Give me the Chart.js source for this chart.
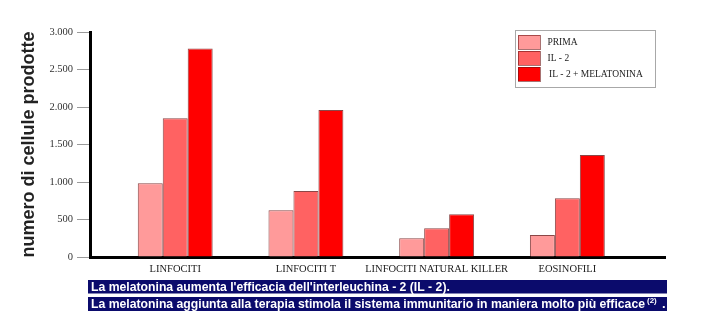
<!DOCTYPE html>
<html>
<head>
<meta charset="utf-8">
<script src="https://cdn.jsdelivr.net/npm/chart.js@4.4.1/dist/chart.umd.min.js"></script>
<style>
  html, body { margin: 0; padding: 0; background: #fff; }
  #wrap { width: 722px; height: 330px; }
</style>
</head>
<body>
<div id="wrap"><canvas id="cellChart" width="722" height="330"></canvas></div>
<script>
// categories on the x axis
const categories = ['LINFOCITI', 'LINFOCITI T', 'LINFOCITI NATURAL KILLER', 'EOSINOFILI'];

// cells produced, per treatment
const prima = [985, 625, 250, 295];
const il2 = [1850, 880, 385, 785];
const il2Melatonina = [2780, 1960, 570, 1360];

const seriesLabels = ['PRIMA', 'IL - 2', 'IL - 2 + MELATONINA'];
const seriesColors = ['#ff9a9a', '#ff6262', '#ff0000'];

const yTicks = [0, 500, 1000, 1500, 2000, 2500, 3000];

const notes = [
    "La melatonina aumenta l'efficacia dell'interleuchina - 2 (IL - 2).",
    "La melatonina aggiunta alla terapia stimola il sistema immunitario in maniera molto più efficace"
];
const noteRef = '(2)';

function thousands(v) {
    return String(v).replace(/\B(?=(\d{3})+(?!\d))/g, '.');
}

function toPoints(values) {
    return values.map((v, i) => ({ x: i, y: v }));
}

// legend box drawn in the upper right corner of the plot
const boxLegend = {
    id: 'boxLegend',
    afterDraw(chart) {
        const ctx = chart.ctx;
        ctx.save();
        ctx.fillStyle = '#fff';
        ctx.fillRect(515, 30, 140, 57);
        ctx.strokeStyle = '#a8a8a8';
        ctx.lineWidth = 1;
        ctx.strokeRect(515.5, 30.5, 140, 57);
        ctx.font = '9.5px "Liberation Serif", "Times New Roman", serif';
        ctx.textBaseline = 'middle';
        chart.data.datasets.forEach((ds, i) => {
            const y = 35 + i * 16;
            ctx.fillStyle = ds.backgroundColor;
            ctx.fillRect(518, y, 22, 14);
            ctx.strokeStyle = 'rgba(110,20,20,0.6)';
            ctx.strokeRect(518.5, y + 0.5, 22, 14);
            ctx.fillStyle = '#222';
            ctx.fillText(ds.label, i === 2 ? 549 : 547.5, y + 7.5);
        });
        ctx.restore();
    }
};

// the two navy caption strips under the chart
const captions = {
    id: 'captions',
    afterDraw(chart) {
        const ctx = chart.ctx;
        ctx.save();
        ctx.fillStyle = '#0b0b6c';
        ctx.fillRect(88, 280, 579, 13.5);
        ctx.fillRect(88, 297, 579, 14);
        const font = 'bold 13px "Liberation Sans", Arial, sans-serif';
        ctx.font = font;
        const target = 645 - 91;
        const factor = target / ctx.measureText(notes[1]).width;
        ctx.fillStyle = '#fff';
        ctx.textBaseline = 'alphabetic';
        ctx.fillText(notes[0], 91, 290.5, ctx.measureText(notes[0]).width * factor);
        ctx.fillText(notes[1], 91, 307.5, target);
        ctx.font = 'bold 8px "Liberation Sans", Arial, sans-serif';
        ctx.fillText(noteRef, 647, 303);
        ctx.font = font;
        ctx.fillText('.', 662, 307.5);
        ctx.restore();
    }
};

new Chart(document.getElementById('cellChart'), {
    type: 'bar',
    data: {
        datasets: [
            { label: seriesLabels[0], data: toPoints(prima), backgroundColor: seriesColors[0] },
            { label: seriesLabels[1], data: toPoints(il2), backgroundColor: seriesColors[1] },
            { label: seriesLabels[2], data: toPoints(il2Melatonina), backgroundColor: seriesColors[2] }
        ]
    },
    options: {
        responsive: false,
        animation: false,
        layout: { padding: { left: 0, top: 32, right: 57, bottom: 53 } },
        datasets: {
            bar: {
                categoryPercentage: 0.573,
                barPercentage: 1,
                borderWidth: 1,
                borderColor: 'rgba(100,10,10,0.75)'
            }
        },
        plugins: {
            legend: { display: false },
            tooltip: { enabled: false }
        },
        scales: {
            x: {
                type: 'linear',
                offset: false,
                min: -0.652,
                max: 3.747,
                afterBuildTicks: axis => {
                    axis.ticks = categories.map((c, i) => ({ value: i }));
                },
                afterFit: axis => { axis.height = 20; },
                grid: { display: false, drawTicks: false, offset: false },
                border: { display: true, color: '#000', width: 3 },
                ticks: {
                    padding: 6,
                    maxRotation: 0,
                    autoSkip: false,
                    color: '#222',
                    font: { family: '"Liberation Serif", "Times New Roman", serif', size: 10.5 },
                    callback: v => categories[v]
                }
            },
            y: {
                min: 0,
                max: 3000,
                afterBuildTicks: axis => {
                    axis.ticks = yTicks.map(v => ({ value: v }));
                },
                afterFit: axis => { axis.width = 90; },
                grid: { drawOnChartArea: false, tickLength: 13, color: '#9a9a9a', lineWidth: 1 },
                border: { display: true, color: '#000', width: 3 },
                ticks: {
                    padding: 4,
                    color: '#333',
                    font: { family: '"Liberation Serif", "Times New Roman", serif', size: 10.5 },
                    callback: v => thousands(v)
                },
                title: {
                    display: true,
                    text: 'numero di cellule prodotte',
                    color: '#222',
                    padding: { top: 18, bottom: 0 },
                    font: { family: '"Liberation Sans", Arial, sans-serif', size: 18, weight: 'bold' }
                }
            }
        }
    },
    plugins: [boxLegend, captions]
});
</script>
</body>
</html>
